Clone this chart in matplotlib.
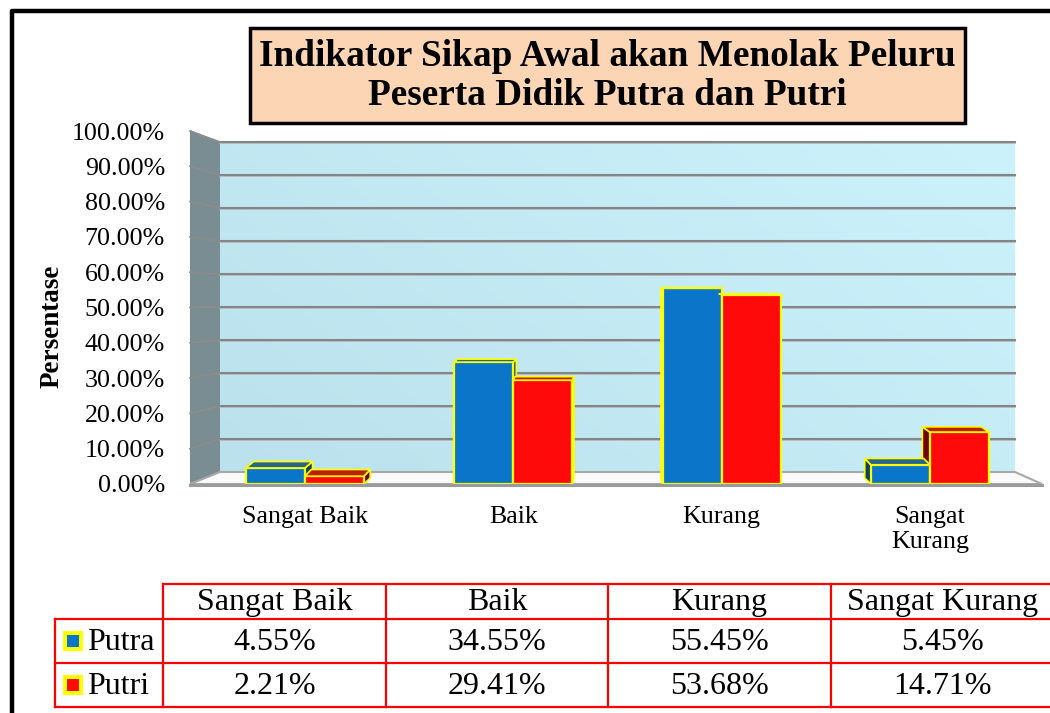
import matplotlib
matplotlib.use("Agg")
import matplotlib.pyplot as plt
import numpy as np
from matplotlib.patches import Polygon, Rectangle
from matplotlib.colors import to_rgb

# data
kategori = ["Sangat Baik", "Baik", "Kurang", "Sangat Kurang"]
label_sumbu = ["Sangat Baik", "Baik", "Kurang", "Sangat\nKurang"]
putra = [4.55, 34.55, 55.45, 5.45]
putri = [2.21, 29.41, 53.68, 14.71]
nama_seri = ["Putra", "Putri"]
yticks = [0, 10, 20, 30, 40, 50, 60, 70, 80, 90, 100]

W, H = 1050, 713
FONT = "Liberation Serif"
biru, merah = "#0B76C9", "#FF0A0A"
biru_atas, biru_sisi = "#25678C", "#0E3F66"
merah_atas, merah_sisi = "#B82000", "#6E0000"
kuning = "#FFFF00"

fig = plt.figure(figsize=(W / 100, H / 100), dpi=100)


def fx(px):
    return px / W


def fy(py):
    return 1 - py / H


# axes = bidang depan grafik (px 190..1042, 0% di y=484, 100% di y=131)
ax = fig.add_axes([fx(190), fy(484), fx(1042 - 190), (484 - 131) / H])
px_per_unit = 208.3
x0_px = 305
ax.set_xlim((190 - x0_px) / px_per_unit, (1042 - x0_px) / px_per_unit)
ax.set_ylim(0, 100)
for s in ax.spines.values():
    s.set_visible(False)
ax.set_facecolor("none")


def dx_px(px):
    return (px - x0_px) / px_per_unit


# dinding belakang (gradasi)
bx0, bx1 = dx_px(220), dx_px(1015)
b0 = (484 - 472) / 3.53
b100 = (484 - 142) / 3.53
c1 = np.array(to_rgb("#BBE2EC"))
c2 = np.array(to_rgb("#CCF2FC"))
gx, gy = np.meshgrid(np.linspace(0, 1, 200), np.linspace(1, 0, 100))
t = np.clip(0.65 * gx + 0.35 * gy, 0, 1)[..., None]
img = c1 * (1 - t) + c2 * t
ax.imshow(img, extent=[bx0, bx1, b0, b100], aspect="auto", zorder=0,
          interpolation="bilinear")


def back_y(v):
    return b0 + v * (b100 - b0) / 100


# dinding samping
fx0 = dx_px(190)
ax.add_patch(Polygon([[fx0, 0], [bx0, b0], [bx0, b100], [fx0, 100.3]],
                     closed=True, facecolor="#798D93", edgecolor="none",
                     zorder=1, clip_on=False))
# lantai
fx1 = dx_px(1042)
ax.add_patch(Polygon([[fx0, 0], [bx0, b0], [bx1, b0], [fx1, 0]], closed=True,
                     facecolor="#FAFAFA", edgecolor="#A8A8A8", lw=1.5,
                     zorder=1, clip_on=False))
ax.plot([fx0, fx1], [-0.3, -0.3], color="#9A9A9A", lw=2.2, zorder=1,
        clip_on=False)

# garis grid
for v in yticks[1:]:
    ax.plot([bx0, bx1], [back_y(v) - 0.35, back_y(v) - 0.35], color="#B8B8B8",
            lw=1.2, zorder=2, clip_on=False)
    ax.plot([bx0, bx1], [back_y(v), back_y(v)], color="#858585", lw=1.5,
            zorder=2, clip_on=False)
    ax.plot([fx0, bx0], [v, back_y(v)], color="#8C8C8C", lw=1.2, zorder=2,
            clip_on=False)

# batang (pseudo 3D, mata kira-kira setinggi 60%)
lebar = 0.283
xs = np.arange(len(kategori))
faces_side, faces_top = [], []
for vals, off, cf, ct, cs in [(putra, -lebar / 2, biru, biru_atas, biru_sisi),
                              (putri, lebar / 2, merah, merah_atas, merah_sisi)]:
    ax.bar(xs + off, vals, width=lebar, color=cf, edgecolor=kuning,
           linewidth=1.6, zorder=5)
    for xc, v in zip(xs + off, vals):
        d = -0.022 * (xc - 1.503)
        dy = max(1.8 * (60 - v) / 55, 0.15)
        xa, xb = xc - lebar / 2, xc + lebar / 2
        faces_top.append(([[xa, v], [xb, v], [xb + d, v + dy], [xa + d, v + dy]], ct))
        if d > 0:
            faces_side.append(([[xb, 0], [xb + d, 1.7], [xb + d, v + dy], [xb, v]], cs))
        else:
            faces_side.append(([[xa, 0], [xa + d, 1.7], [xa + d, v + dy], [xa, v]], cs))
for pts, c in faces_side:
    ax.add_patch(Polygon(pts, closed=True, facecolor=c, edgecolor=kuning,
                         lw=1.2, zorder=4))
for pts, c in faces_top:
    ax.add_patch(Polygon(pts, closed=True, facecolor=c, edgecolor=kuning,
                         lw=1.2, zorder=6))

ax.set_yticks(yticks)
ax.set_yticklabels(["%.2f%%" % v for v in yticks], fontfamily=FONT,
                   fontsize=18.7)
ax.set_xticks(xs)
ax.set_xticklabels(label_sumbu, fontfamily=FONT, fontsize=18.7,
                   linespacing=1.15)
ax.tick_params(axis="y", length=0, pad=18)
ax.tick_params(axis="x", length=0, pad=16)

# judul sumbu
fig.text(fx(52), fy(326), "Persentase", rotation=90, ha="center", va="center",
         fontfamily=FONT, fontsize=19.5, fontweight="bold")

# judul
fig.add_artist(Rectangle((fx(250), fy(123)), fx(965 - 250), (123 - 28) / H,
                         facecolor="#FCD5B5", edgecolor="black", lw=2.5,
                         transform=fig.transFigure))
fig.text(fx(607), fy(76), "Indikator Sikap Awal akan Menolak Peluru\n"
         "Peserta Didik Putra dan Putri", ha="center", va="center",
         fontfamily=FONT, fontsize=26.8, fontweight="bold", linespacing=1.15)

# bingkai hitam
fig.add_artist(plt.Line2D([fx(12), fx(12), fx(1052)], [0, fy(11), fy(11)],
                          color="black", lw=3.2, transform=fig.transFigure))

# tabel data
col_x = [55, 163, 386, 608, 831, 1054]
row_y = [584, 619, 663, 707]
merah_tabel = "#FF0000"
lw_t = 1.6


def hline(y, xa, xb):
    fig.add_artist(plt.Line2D([fx(xa), fx(xb)], [fy(y), fy(y)],
                              color=merah_tabel, lw=lw_t,
                              transform=fig.transFigure))


def vline(x, ya, yb):
    fig.add_artist(plt.Line2D([fx(x), fx(x)], [fy(ya), fy(yb)],
                              color=merah_tabel, lw=lw_t,
                              transform=fig.transFigure))


hline(row_y[0], col_x[1], col_x[-1])
for y in row_y[1:]:
    hline(y, col_x[0], col_x[-1])
vline(col_x[0], row_y[1], row_y[-1])
for x in col_x[1:]:
    vline(x, row_y[0], row_y[-1])

for i, k in enumerate(kategori):
    cx = (col_x[i + 1] + col_x[i + 2]) / 2
    fig.text(fx(cx), fy((row_y[0] + row_y[1]) / 2 + 1), k, ha="center",
             va="center", fontfamily=FONT, fontsize=23)
    for r, vals in enumerate([putra, putri]):
        cy = (row_y[r + 1] + row_y[r + 2]) / 2 + 1
        fig.text(fx(cx), fy(cy), "%.2f%%" % vals[i], ha="center", va="center",
                 fontfamily=FONT, fontsize=23)

for r, (nm, c) in enumerate(zip(nama_seri, [biru, merah])):
    cy = (row_y[r + 1] + row_y[r + 2]) / 2
    fig.add_artist(Rectangle((fx(63), fy(cy + 10)), fx(20), 20 / H,
                             facecolor=kuning, edgecolor="none",
                             transform=fig.transFigure))
    fig.add_artist(Rectangle((fx(67), fy(cy + 6)), fx(12), 12 / H,
                             facecolor=c, edgecolor="none",
                             transform=fig.transFigure))
    fig.text(fx(87), fy(cy + 1), nm, ha="left", va="center", fontfamily=FONT,
             fontsize=23)

fig.savefig("out.png", dpi=100)
